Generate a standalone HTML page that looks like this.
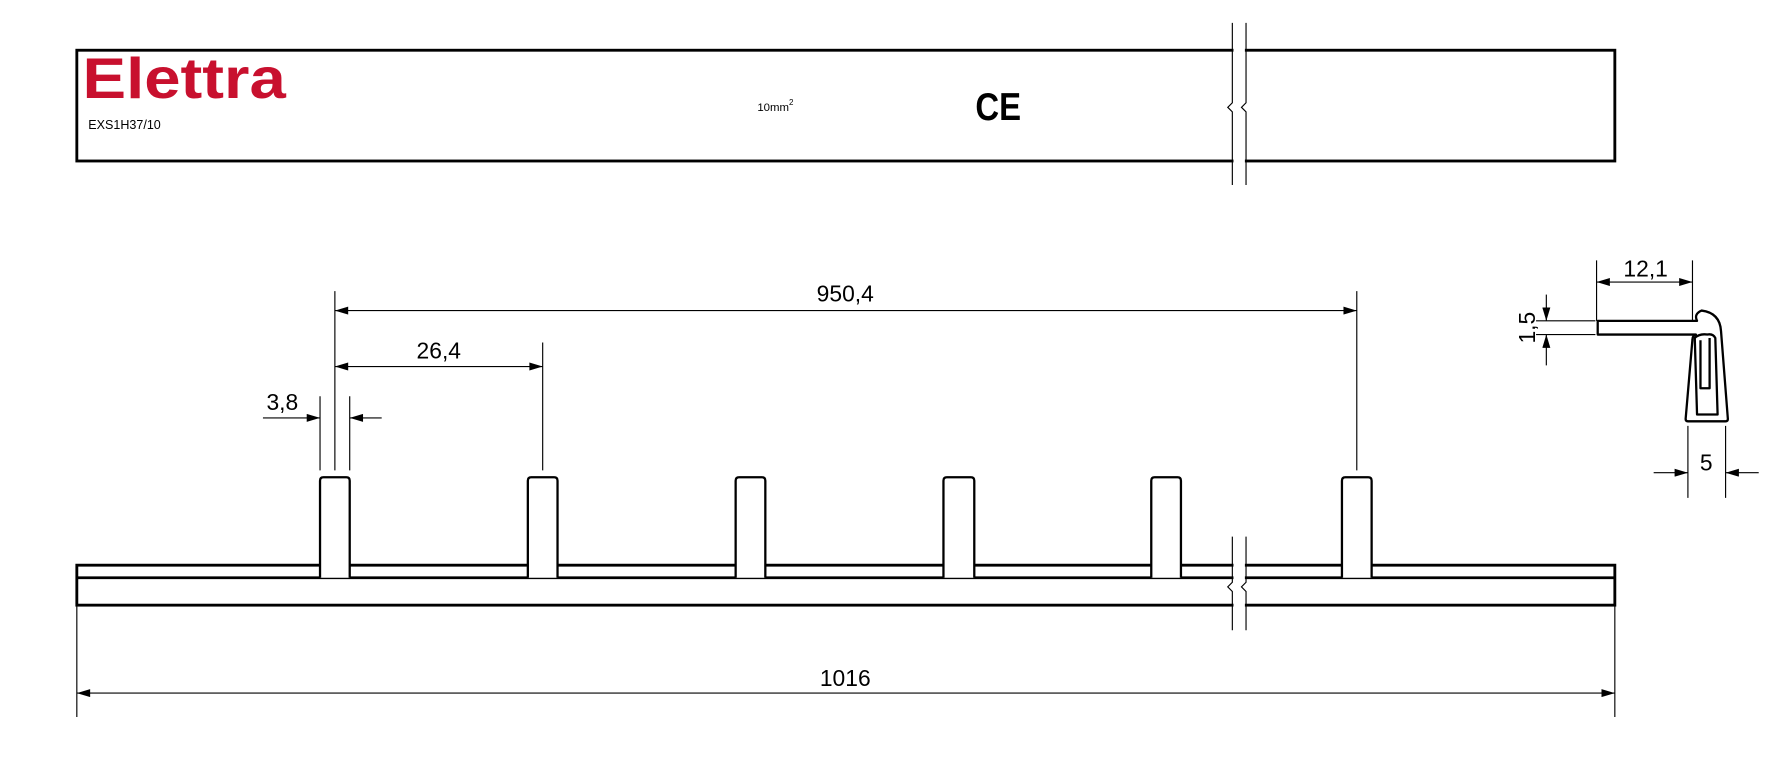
<!DOCTYPE html>
<html><head><meta charset="utf-8"><style>
html,body{margin:0;padding:0;background:#fff;width:1791px;height:773px;overflow:hidden}
svg{display:block}
text{font-family:"Liberation Sans",sans-serif}
.d{font-family:"DejaVu Sans Condensed","DejaVu Sans",sans-serif;font-size:20px}
</style></head><body>
<svg width="1791" height="773" viewBox="0 0 1568 677" xmlns="http://www.w3.org/2000/svg">
<defs>
<marker id="a" viewBox="0 0 10 6" refX="10" refY="3" markerWidth="16" markerHeight="7" markerUnits="userSpaceOnUse" orient="auto-start-reverse"><path d="M0,0 L10,3 L0,6z" fill="#000"/></marker>
</defs>
<g fill="none" stroke="#000">
<rect x="67" y="44" width="1347" height="97" stroke-width="2.5"/>
<rect x="1080" y="20" width="10" height="142" fill="#fff" stroke="none"/>
<path d="M1079 20V90l-4 4 4 4v64M1091 20V90l-4 4 4 4v64" stroke-width="1"/>
<rect x="67" y="495" width="1347" height="35" stroke-width="2.5"/>
<line x1="67" y1="506" x2="1414" y2="506" stroke-width="2.5"/>
</g>
<g fill="#fff" stroke="#000" stroke-width="2">
<path d="M280 506V421q0-3 3-3h20q3 0 3 3V506"/>
<path d="M462 506V421q0-3 3-3h20q3 0 3 3V506"/>
<path d="M644 506V421q0-3 3-3h20q3 0 3 3V506"/>
<path d="M826 506V421q0-3 3-3h21q3 0 3 3V506"/>
<path d="M1008 506V421q0-3 3-3h20q3 0 3 3V506"/>
<path d="M1175 506V421q0-3 3-3h20q3 0 3 3V506"/>
</g>
<rect x="1080" y="470" width="10" height="82" fill="#fff"/>
<g fill="none" stroke="#000" stroke-width="1">
<path d="M1079 470V510l-4 4 4 4v34M1091 470V510l-4 4 4 4v34"/>
<path d="M293 255V412M1188 255V412M475 300V412M280 347V412M306 347V412M67 530V628M1414 530V628"/>
<line x1="293" y1="272" x2="1188" y2="272" marker-start="url(#a)" marker-end="url(#a)"/>
<line x1="293" y1="321" x2="475" y2="321" marker-start="url(#a)" marker-end="url(#a)"/>
<line x1="230" y1="366" x2="280" y2="366" marker-end="url(#a)"/>
<line x1="334" y1="366" x2="306" y2="366" marker-end="url(#a)"/>
<line x1="67" y1="607" x2="1414" y2="607" marker-start="url(#a)" marker-end="url(#a)"/>
<path d="M1398 228V281M1482 228V281M1345 281H1397M1345 293H1397M1478 373V436M1511 373V436"/>
<line x1="1398" y1="247" x2="1482" y2="247" marker-start="url(#a)" marker-end="url(#a)"/>
<line x1="1354" y1="258" x2="1354" y2="281" marker-end="url(#a)"/>
<line x1="1354" y1="320" x2="1354" y2="293" marker-end="url(#a)"/>
<line x1="1448" y1="414" x2="1478" y2="414" marker-end="url(#a)"/>
<line x1="1540" y1="414" x2="1511" y2="414" marker-end="url(#a)"/>
</g>
<g fill="#fff" stroke="#000" stroke-width="2" stroke-linejoin="round">
<path d="M1399 281H1486Q1483 275 1490 272Q1506 274 1507 290L1513 367Q1513 369 1511 369H1478Q1476 369 1476 367L1482 297Q1482 294 1485 293H1399Z"/>
<path d="M1484 296L1486 363H1504L1502 296Q1500 292 1495 293Q1488 292 1484 296Z"/>
<path d="M1489 298V340H1497V296"/>
</g>
<text x="72" y="86" font-size="50" font-weight="bold" fill="#c8102e" textLength="178" lengthAdjust="spacingAndGlyphs">Elettra</text>
<text x="77" y="113" font-size="11">EXS1H37/10</text>
<text x="663" y="97" font-size="10">10mm<tspan dy="-5" font-size="7">2</tspan></text>
<text x="854" y="105" font-size="34" font-weight="bold" textLength="40" lengthAdjust="spacingAndGlyphs">CE</text>
<g class="d">
<text x="740" y="264" text-anchor="middle">950,4</text>
<text x="384" y="314" text-anchor="middle">26,4</text>
<text x="247" y="359" text-anchor="middle">3,8</text>
<text x="740" y="601" text-anchor="middle">1016</text>
<text x="1441" y="242" text-anchor="middle">12,1</text>
<text x="1494" y="412" text-anchor="middle">5</text>
<text transform="translate(1344,287) rotate(-90)" text-anchor="middle">1,5</text>
</g>
</svg>
</body></html>
